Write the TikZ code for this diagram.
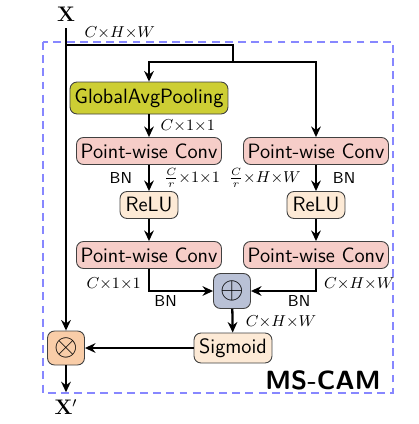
\documentclass[tikz,border=0pt]{standalone}
\usepackage{amsmath}
\usetikzlibrary{positioning,arrows.meta}

\definecolor{gapyellow}{RGB}{205,206,52}
\definecolor{convred}{RGB}{246,205,200}
\definecolor{actorange}{RGB}{253,234,214}
\definecolor{addgray}{RGB}{185,193,214}
\definecolor{mulorange}{RGB}{249,205,168}
\definecolor{frameblue}{RGB}{135,135,255}

\begin{document}
\begin{tikzpicture}[x=0.02cm,y=-0.02cm,->,>={Stealth[length=6pt,width=5.5pt]},line width=1.3pt,
    block/.style={draw=black!75,line width=0.5pt,rounded corners=4pt,
                  font=\fontsize{11.8}{14}\selectfont\sffamily,inner sep=0pt,minimum height=0.54cm},
    conv/.style={block,fill=convred,minimum width=2.9cm},
    act/.style={block,fill=actorange,minimum width=1.16cm},
    opbox/.style={block,minimum width=0.74cm,minimum height=0.7cm,font=\fontsize{17}{20}\selectfont},
    dimlabel/.style={font=\fontsize{9}{11}\selectfont,inner sep=1pt},
    bnlabel/.style={font=\fontsize{9}{11}\selectfont\sffamily,inner sep=1pt}]

\useasboundingbox (0,0) rectangle (419,424);

% module frame
\draw[-,dashed,draw=frameblue,line width=0.6pt,dash pattern=on 4.5pt off 3pt] (43,42) rectangle (393,393);
\node[font=\fontsize{15}{18}\selectfont\sffamily\bfseries] (name) at (323,380) {MS-CAM};

% input / output
\node[font=\fontsize{12}{14}\selectfont] (x) at (66,14) {$\mathbf{X}$};
\node[font=\fontsize{12}{14}\selectfont] (xout) at (66,407) {$\mathbf{X}'$};
\coordinate (tap) at (66,45);
\coordinate (fork) at (233,62);

% local and global branches
\node[block,fill=gapyellow,minimum width=3.16cm,minimum height=0.64cm] (gap) at (149,98) {GlobalAvgPooling};
\node[conv] (pwc1) at (149,151) {Point-wise Conv};
\node[act] (relu1) at (149,205) {ReLU};
\node[conv] (pwc3) at (149,255) {Point-wise Conv};

\node[conv] (pwc2) at (316,151) {Point-wise Conv};
\node[act] (relu2) at (316,205) {ReLU};
\node[conv] (pwc4) at (316,255) {Point-wise Conv};

\node[opbox,fill=addgray] (add) at (232,291) {$\oplus$};
\node[block,fill=actorange,minimum width=1.56cm,minimum height=0.6cm] (sig) at (233,348) {Sigmoid};
\node[opbox,fill=mulorange,minimum height=0.68cm] (mul) at (66,348) {$\otimes$};

% connections
\draw (x) -- (mul);
\draw[-] (tap) -| (fork) node[dimlabel,pos=0,anchor=south west,xshift=9pt,yshift=2pt] {$C{\times}H{\times}W$};
\draw (fork) -| (gap);
\draw (fork) -| (pwc2);

\draw (gap) -- (pwc1) node[dimlabel,midway,right=5pt] {$C{\times}1{\times}1$};
\draw (pwc1) -- (relu1) node[bnlabel,midway,left=8pt] {BN}
                        node[dimlabel,midway,right=7pt] {$\tfrac{C}{r}{\times}1{\times}1$};
\draw (relu1) -- (pwc3);
\draw (pwc3) |- (add) node[dimlabel,pos=0.33,left=3pt] {$C{\times}1{\times}1$}
                      node[bnlabel,pos=0.63,below=1pt] {BN};

\draw (pwc2) -- (relu2) node[dimlabel,midway,left=7pt] {$\tfrac{C}{r}{\times}H{\times}W$}
                        node[bnlabel,midway,right=8pt] {BN};
\draw (relu2) -- (pwc4);
\draw (pwc4) |- (add) node[dimlabel,pos=0.33,right=3pt] {$C{\times}H{\times}W$}
                      node[bnlabel,pos=0.63,below=1pt] {BN};

\draw (add) -- (sig) node[dimlabel,pos=0.55,right=6pt] {$C{\times}H{\times}W$};
\draw (sig) -- (mul);
\draw (mul) -- (xout);

\end{tikzpicture}
\end{document}
